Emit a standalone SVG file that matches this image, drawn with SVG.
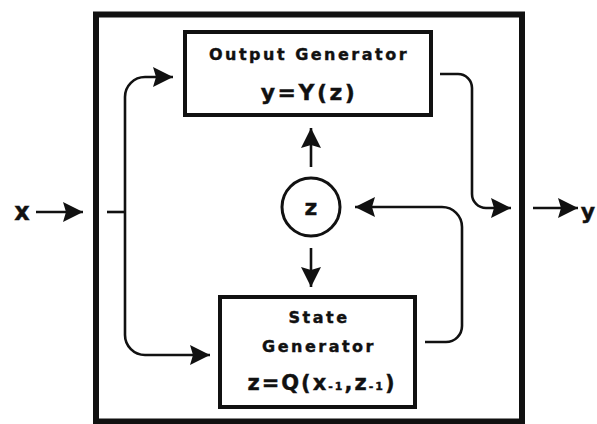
<svg xmlns="http://www.w3.org/2000/svg" width="597" height="424" viewBox="0 0 597 424">
<style>
.box{fill:none;stroke:#111;stroke-width:4}
.outer{fill:none;stroke:#111;stroke-width:6}
.con{fill:none;stroke:#111;stroke-width:2.6}
.lbl{font-family:"DejaVu Sans",sans-serif;font-weight:bold;fill:#111;text-anchor:middle;stroke:#111;stroke-width:0.4}
.t{font-size:16px;letter-spacing:2.5px}
.eq{font-size:22px;letter-spacing:2.5px}
</style>
<defs>
<marker id="ah" markerUnits="userSpaceOnUse" markerWidth="22" markerHeight="22" refX="20" refY="10" orient="auto">
<path d="M0,0 L20,10 L0,20 L3,10 z" fill="#111"/>
</marker>
</defs>
<rect x="0" y="0" width="597" height="424" fill="#fff"/>
<rect id="system" class="outer" x="96" y="14.5" width="426" height="407"/>
<g id="output-generator">
<rect class="box" x="185" y="32" width="246" height="83"/>
<text class="lbl t" x="309" y="60">Output Generator</text>
<text class="lbl eq" x="309" y="100">y=Y(z)</text>
</g>
<g id="state-generator">
<rect class="box" x="220" y="297" width="195" height="110"/>
<text class="lbl t" x="319" y="323">State</text>
<text class="lbl t" x="319" y="352">Generator</text>
<text class="lbl" x="322" y="390" style="font-size:21px;letter-spacing:2px">z=Q(x<tspan style="font-size:11px">-1</tspan>,z<tspan style="font-size:11px">-1</tspan>)</text>
</g>
<g id="state-z">
<circle cx="311" cy="207" r="29" fill="none" stroke="#111" stroke-width="3"/>
<text class="lbl" x="311" y="215" style="font-size:22px">z</text>
</g>
<g id="input-x">
<text class="lbl" x="22" y="220" style="font-size:24px">x</text>
</g>
<g id="output-y">
<text class="lbl" x="588" y="219" style="font-size:22px">y</text>
</g>
<g id="connectors">
<path class="con" d="M36,212 H83" marker-end="url(#ah)"/>
<path class="con" d="M107,212 H125"/>
<path class="con" d="M125,212 V97 A20,20 0 0 1 145,77 H173" marker-end="url(#ah)"/>
<path class="con" d="M125,212 V335 A20,20 0 0 0 145,355 H210" marker-end="url(#ah)"/>
<path class="con" d="M440,74 H458 A14,14 0 0 1 472,88 V194 A14,14 0 0 0 486,208 H511" marker-end="url(#ah)"/>
<path class="con" d="M533,208 H578" marker-end="url(#ah)"/>
<path class="con" d="M425,342 H446 A16,16 0 0 0 462,326 V227 A20,20 0 0 0 442,207 H355" marker-end="url(#ah)"/>
<path class="con" d="M311,167 V128" marker-end="url(#ah)"/>
<path class="con" d="M311,248 V287" marker-end="url(#ah)"/>
</g>
</svg>
